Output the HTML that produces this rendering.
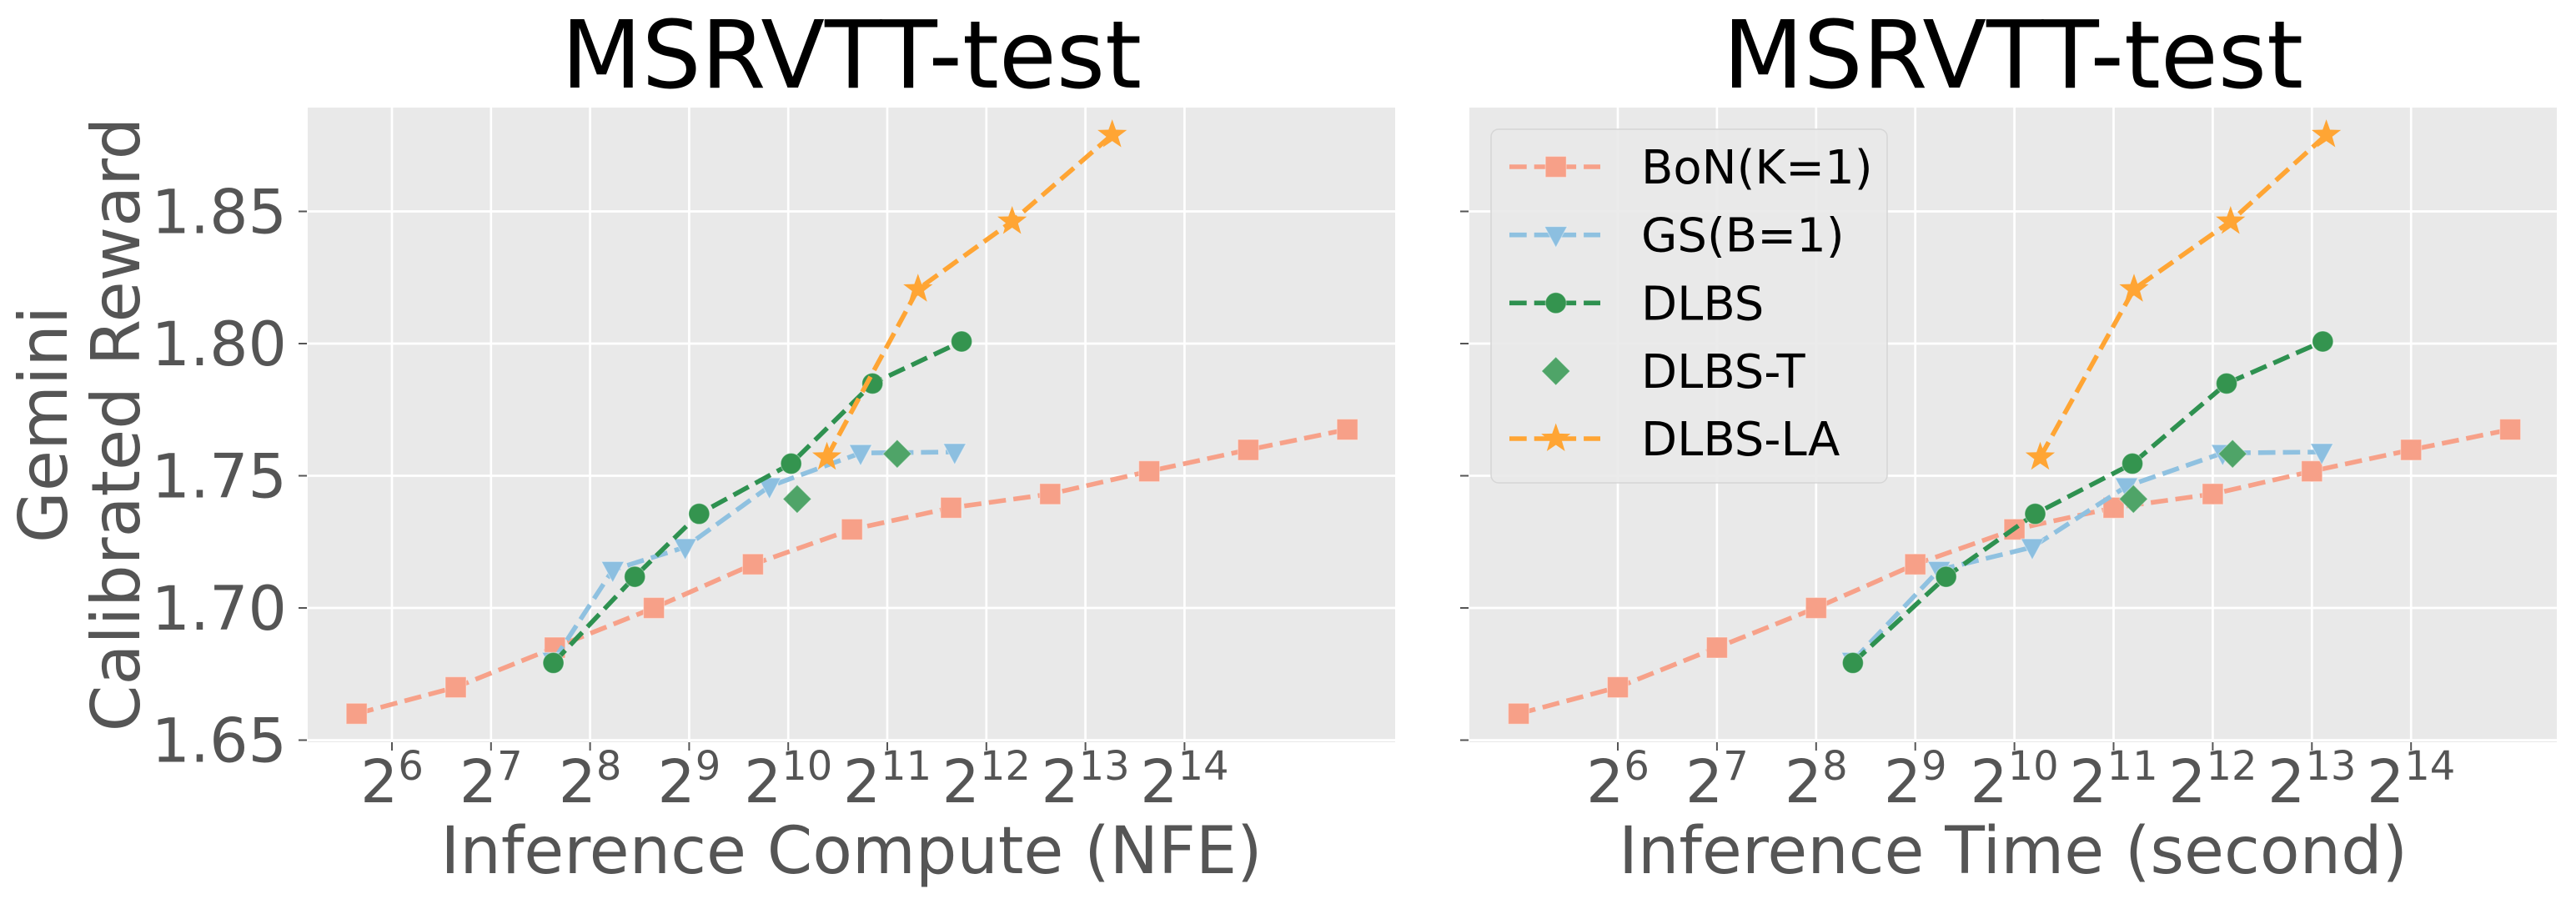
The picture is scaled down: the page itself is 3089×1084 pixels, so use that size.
<!DOCTYPE html>
<html><head><meta charset="utf-8">
<style>
html,body{margin:0;padding:0;background:#fff;}
svg{display:block;font-family:"DejaVu Sans","Liberation Sans",sans-serif;}
</style></head>
<body>
<svg id="fig" width="3089" height="1084" viewBox="0 0 3089 1084" xmlns="http://www.w3.org/2000/svg"></svg>
<script>
// ---- data ----
const bonNfe = [50,100,200,400,800,1600,3200,6400,12800,25600,51200];
const bonTime = [32,64,128,256,512,1024,2048,4096,8192,16384,32768];
const bonVals = [1.660,1.670,1.685,1.700,1.7165,1.7297,1.7379,1.7431,1.7517,1.7598,1.7675];
const gsNfe = [198,300,498,898,1699,3281];
const gsTime = [331,605,1160,2241,4390,8780];
const gsVals = [1.680,1.7144,1.723,1.746,1.7586,1.759];
const dlbsNfe = [198,350,549,1045,1846,3444];
const dlbsTime = [331,635,1184,2336,4513,8840];
const dlbsVals = [1.6792,1.7118,1.7356,1.7546,1.7849,1.8008];
const dlbstNfe = [1090,2195];
const dlbstTime = [2353,4705];
const dlbstVals = [1.7412,1.7583];
const laNfe = [1342,2539,4904,9878];
const laTime = [1226,2362,4640,9060];
const laVals = [1.757,1.8206,1.8462,1.879];
const yTicks = [1.65,1.70,1.75,1.80,1.85];
const yTickLabels = ["1.65","1.70","1.75","1.80","1.85"];
const xTickExp = [6,7,8,9,10,11,12,13,14];

const NS="http://www.w3.org/2000/svg";
const svg=document.getElementById('fig');
function mk(tag,attrs,parent){const e=document.createElementNS(NS,tag);for(const k in attrs)e.setAttribute(k,attrs[k]);(parent||svg).appendChild(e);return e;}

const TOP=129, BOT=890;
function yScale(v){return 412+(1.80-v)/0.05*158.5;}
const panels=[
 {name:'compute',left:369,right:1673,x6:470,step:118.8,title:'MSRVTT-test',xlabel:'Inference Compute (NFE)',labels:true,
  series:[[bonNfe,bonVals],[gsNfe,gsVals],[dlbsNfe,dlbsVals],[dlbstNfe,dlbstVals],[laNfe,laVals]]},
 {name:'time',left:1762,right:3066,x6:1940,step:118.9,title:'MSRVTT-test',xlabel:'Inference Time (second)',labels:false,
  series:[[bonTime,bonVals],[gsTime,gsVals],[dlbsTime,dlbsVals],[dlbstTime,dlbstVals],[laTime,laVals]]}
];
const styles=[
 {key:'bon',label:'BoN(K=1)',line:'#f7a189',fill:'#f7a088',marker:'square',dashed:true},
 {key:'gs',label:'GS(B=1)',line:'#8fc1e0',fill:'#8cbfe0',marker:'tri',dashed:true},
 {key:'dlbs',label:'DLBS',line:'#2e9150',fill:'#34944f',marker:'circle',dashed:true},
 {key:'dlbst',label:'DLBS-T',line:'none',fill:'#4fa468',marker:'diamond',dashed:false},
 {key:'la',label:'DLBS-LA',line:'#ffa534',fill:'#ffa534',marker:'star',dashed:true}
];
function marker(type,cx,cy,fill,parent){
  let e;
  const st={fill:fill,stroke:'rgba(255,255,255,0.35)','stroke-width':1.2};
  if(type==='square'){e=mk('rect',Object.assign({x:cx-12.5,y:cy-12.5,width:25,height:25},st),parent);}
  else if(type==='circle'){e=mk('circle',Object.assign({cx:cx,cy:cy,r:12.5},st),parent);}
  else if(type==='tri'){e=mk('polygon',Object.assign({points:`${cx-13.5},${cy-10} ${cx+13.5},${cy-10} ${cx},${cy+15}`},st),parent);}
  else if(type==='diamond'){e=mk('polygon',Object.assign({points:`${cx},${cy-17} ${cx+17},${cy} ${cx},${cy+17} ${cx-17},${cy}`},st),parent);}
  else {let p=[];for(let i=0;i<10;i++){const r=i%2?7.5:18.5;const a=-Math.PI/2+i*Math.PI/5;p.push((cx+r*Math.cos(a)).toFixed(1)+','+(cy+r*Math.sin(a)).toFixed(1));}
        e=mk('polygon',{points:p.join(' '),fill:fill},parent);}
  return e;
}

panels.forEach(P=>{
  const xS=v=>P.x6+(Math.log2(v)-6)*P.step;
  const g=mk('g',{});
  
  
  const bg=mk('rect',{x:P.left,y:TOP,width:P.right-P.left,height:BOT-TOP,fill:'#e9e9e9'},g);
  
  
  // gridlines
  xTickExp.forEach(k=>{
    const x=xS(Math.pow(2,k));
    const l=mk('line',{x1:x,x2:x,y1:TOP,y2:BOT,stroke:'#fff','stroke-width':2.7},g);
    
    
    const t=mk('line',{x1:x,x2:x,y1:BOT,y2:BOT+10,stroke:'#555','stroke-width':2},g);
    
    
    const tx=mk('text',{x:x,y:962,'text-anchor':'middle',fill:'#555','font-size':71},g);
    
    
    const b=mk('tspan',{},tx);b.textContent='2';
    const s=mk('tspan',{dy:-27,'font-size':48},tx);s.textContent=String(k);
  });
  yTicks.forEach((v,i)=>{
    const y=yScale(v);
    const l=mk('line',{x1:P.left,x2:P.right,y1:y,y2:y,stroke:'#fff','stroke-width':2.7},g);
    
    
    const t=mk('line',{x1:P.left-11,x2:P.left-1,y1:y,y2:y,stroke:'#555','stroke-width':2},g);
    
    
    if(P.labels){
      const tx=mk('text',{x:344,y:y+26,'text-anchor':'end',fill:'#555','font-size':73},g);
      
      
      tx.textContent=yTickLabels[i];
    }
  });
  // series
  P.series.forEach((sd,si)=>{
    const S=styles[si];
    const sg=mk('g',{},g);
    
    
    const pts=sd[0].map((xv,i)=>[xS(xv),yScale(sd[1][i])]);
    if(S.dashed){
      const pl=mk('polyline',{points:pts.map(p=>p[0].toFixed(1)+','+p[1].toFixed(1)).join(' '),fill:'none',stroke:S.line,'stroke-width':5.6,'stroke-dasharray':'20.7 9'},sg);
      
      
    }
    pts.forEach(p=>{
      const m=marker(S.marker,p[0],p[1],S.fill,sg);
      
      
    });
  });
  const ti=mk('text',{x:(P.left+P.right)/2,y:105,'text-anchor':'middle',fill:'#000','font-size':112},g);
  
  
  ti.textContent=P.title;
  const xl=mk('text',{x:(P.left+P.right)/2,y:1047,'text-anchor':'middle',fill:'#555','font-size':78},g);
  
  
  xl.textContent=P.xlabel;
});

// y axis title
const yt=mk('text',{transform:'translate(80,509) rotate(-90)','text-anchor':'middle',fill:'#555','font-size':80});


const l1=mk('tspan',{x:0,y:0},yt);l1.textContent='Gemini';
const l2=mk('tspan',{x:0,y:87},yt);l2.textContent='Calibrated Reward';

// legend
const lg=mk('g',{});


const lb=mk('rect',{x:1788,y:155,width:475,height:424,rx:9,fill:'#e9e9e9','fill-opacity':0.9,stroke:'#d6d6d6','stroke-width':1.5},lg);


const legY=[200,281.7,363.3,445,526];
styles.forEach((S,i)=>{
  const eg=mk('g',{},lg);
  
  
  const y=legY[i];
  if(S.dashed){
    const ln=mk('line',{x1:1810,x2:1919,y1:y,y2:y,stroke:S.line,'stroke-width':5.6,'stroke-dasharray':'20.7 9'},eg);
    
    
  }
  const m=marker(S.marker,1865.7,y,S.fill,eg);
  
  
  const t=mk('text',{x:1968,y:y+20,fill:'#000','font-size':56},eg);
  
  
  t.textContent=S.label;
});
</script>
</body></html>
